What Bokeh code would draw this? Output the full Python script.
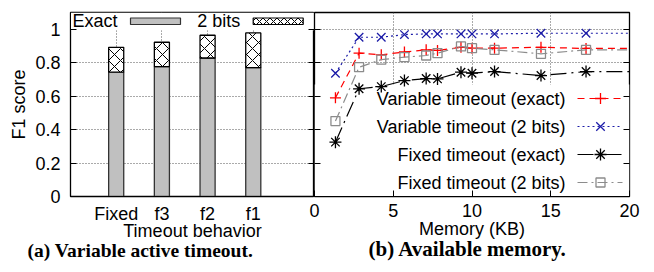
from bokeh.plotting import figure
from bokeh.models import (Range1d, FixedTicker, LinearAxis, BoxAnnotation, Title,
                          NumeralTickFormatter)
from bokeh.layouts import row
from bokeh.embed import file_html
from bokeh.resources import INLINE
from bokeh.core.properties import value

# ---------------- data ----------------
categories = ["Fixed", "f3", "f2", "f1"]
f1_exact = [0.743, 0.777, 0.828, 0.770]
f1_two_bits = [0.892, 0.922, 0.964, 0.978]

memory_kb = [1.33, 2.83, 4.24, 5.71, 7.09, 7.81, 9.30, 10.0, 11.43, 14.38, 17.24, 21.5]
var_exact = [0.590, 0.857, 0.847, 0.864, 0.877, 0.873, 0.892, 0.887, 0.887, 0.892, 0.885, 0.885]
var_two_bits = [0.737, 0.952, 0.952, 0.968, 0.972, 0.972, 0.972, 0.972, 0.972, 0.976, 0.976, 0.976]
fix_exact = [0.325, 0.644, 0.657, 0.693, 0.705, 0.703, 0.743, 0.737, 0.747, 0.723, 0.747, 0.747]
fix_two_bits = [0.451, 0.773, 0.818, 0.833, 0.843, 0.857, 0.897, 0.887, 0.877, 0.853, 0.877, 0.877]

y_ticks = [0, 0.2, 0.4, 0.6, 0.8, 1.0]
mem_ticks = [0, 5, 10, 15, 20]
mem_grid = [5, 10, 15]

FONT = "Liberation Sans"
CAP_FONT = "Liberation Serif"
FS = "18px"
GRID_COLOR = "#555555"
RED = "#ff0000"
BLUE = "#1c1ca8"
GRAY = "#8c8c8c"

positions = list(range(1, len(categories) + 1))


def style_common(p):
    p.outline_line_color = "black"
    p.outline_line_width = 1.3
    p.background_fill_color = "white"
    p.ygrid.ticker = FixedTicker(ticks=y_ticks)
    for g in (p.xgrid, p.ygrid):
        g.grid_line_color = GRID_COLOR
        g.grid_line_dash = "1 2"
        g.grid_line_width = 1
    ax = p.xaxis[0]
    ax.axis_label_text_font = FONT
    ax.axis_label_text_font_size = FS
    ax.axis_label_text_font_style = "normal"
    ax.axis_label_text_color = "black"
    ax.major_label_text_font = FONT
    ax.major_label_text_font_size = FS
    ax.major_label_text_color = "black"
    ax.major_tick_out = 0
    ax.minor_tick_in = 0
    ax.minor_tick_out = 0
    ax.major_label_standoff = 7
    ax.axis_line_color = "black"
    ax.major_tick_line_color = "black"


def hidden_y_axis():
    return LinearAxis(ticker=FixedTicker(ticks=y_ticks), major_tick_in=6, major_tick_out=0,
                      minor_tick_in=0, minor_tick_out=0, major_label_text_font_size="0px",
                      major_label_standoff=0, axis_line_color=None, major_tick_line_color="black")


def caption(text, offset, size, standoff):
    return Title(text=text, align="left", offset=offset, standoff=standoff,
                 text_font=CAP_FONT, text_font_size=size, text_font_style="bold",
                 text_color="black")


# ---------------- (a) bars ----------------
pa = figure(width=314, height=272, x_range=Range1d(0, 5.34), y_range=Range1d(0, 1.1),
            output_backend="svg", toolbar_location=None,
            min_border_left=70, min_border_right=0, min_border_top=12, min_border_bottom=76)
style_common(pa)
pa.extra_x_ranges = {"lx": Range1d(0, 244)}
pa.extra_y_ranges = {"ly": Range1d(0, 184)}

pa.xaxis.ticker = FixedTicker(ticks=positions)
pa.xaxis.major_label_overrides = {p: c for p, c in zip(positions, categories)}
pa.xaxis.major_tick_in = 0
pa.xaxis.axis_label = "Timeout behavior"
pa.xaxis.axis_label_standoff = -6
pa.xgrid.ticker = FixedTicker(ticks=positions)

pa.yaxis.ticker = FixedTicker(ticks=y_ticks)
pa.yaxis.formatter = NumeralTickFormatter(format="0.[0]")
pa.yaxis.major_tick_in = 6
pa.yaxis.major_tick_out = 0
pa.yaxis.minor_tick_in = 0
pa.yaxis.minor_tick_out = 0
pa.yaxis.major_label_standoff = 10
pa.yaxis.major_label_text_font = FONT
pa.yaxis.major_label_text_font_size = FS
pa.yaxis.major_label_text_color = "black"
pa.yaxis.major_tick_line_color = "black"
pa.yaxis.axis_line_color = "black"
pa.yaxis.axis_label = "F1 score"
pa.yaxis.axis_label_text_font = FONT
pa.yaxis.axis_label_text_font_size = FS
pa.yaxis.axis_label_text_font_style = "normal"
pa.yaxis.axis_label_text_color = "black"
pa.yaxis.axis_label_standoff = 3
pa.add_layout(hidden_y_axis(), "right")

# opaque key area
pa.add_layout(BoxAnnotation(bottom=0.994, fill_color="white", fill_alpha=1.0,
                            line_alpha=0, level="underlay"))

pa.vbar(x=positions, width=0.33, bottom=0, top=f1_exact, fill_color="#c0c0c0",
        line_color="#333333", line_width=1.3)
pa.vbar(x=positions, width=0.33, bottom=f1_exact, top=f1_two_bits, fill_color="white",
        hatch_pattern="diagonal_cross", hatch_color="black", hatch_scale=12, hatch_weight=1,
        line_color="black", line_width=1.3)

# key (a)
pa.text(x=[2, 126.7], y=[176, 176], text=["Exact", "2 bits"], x_range_name="lx", y_range_name="ly",
        text_font=value(FONT), text_font_size=FS, text_baseline="middle", text_align="left",
        text_color="black")
pa.quad(left=[60], right=[110], bottom=[172], top=[178.5], x_range_name="lx", y_range_name="ly",
        fill_color="#c0c0c0", line_color="#333333", line_width=1.2)
pa.quad(left=[182.7], right=[232.7], bottom=[172], top=[178.5], x_range_name="lx", y_range_name="ly",
        fill_color="white", hatch_pattern="diagonal_cross", hatch_color="black", hatch_scale=7,
        hatch_weight=1, line_color="black", line_width=1.2)

pa.add_layout(caption("(a) Variable active timeout.", -43, "19.5px", -12), "below")

# ---------------- (b) memory ----------------
pb = figure(width=350, height=272, x_range=Range1d(0, 20), y_range=Range1d(0, 1.1),
            output_backend="svg", toolbar_location=None,
            min_border_left=10, min_border_right=25, min_border_top=12, min_border_bottom=76,
            margin=(0, 0, 0, -10), border_fill_alpha=0)
style_common(pb)
pb.extra_x_ranges = {"lx": Range1d(0, 315)}
pb.extra_y_ranges = {"ly": Range1d(0, 184)}

pb.xaxis.ticker = FixedTicker(ticks=mem_ticks)
pb.xaxis.major_tick_in = 6
pb.xaxis.axis_label = "Memory (KB)"
pb.xaxis.axis_label_standoff = -1
pb.xgrid.ticker = FixedTicker(ticks=mem_grid)
pb.yaxis.visible = False
pb.add_layout(hidden_y_axis(), "left")
pb.add_layout(hidden_y_axis(), "right")

pb.add_layout(BoxAnnotation(top=0.67, fill_color="white", fill_alpha=1.0,
                            line_alpha=0, level="underlay"))

series = [
    ("Variable timeout (exact)", var_exact, RED, "7 5", "cross", 11),
    ("Variable timeout (2 bits)", var_two_bits, BLUE, "2 3", "x", 12),
    ("Fixed timeout (exact)", fix_exact, "black", "16 5 2 5", "asterisk", 12),
    ("Fixed timeout (2 bits)", fix_two_bits, GRAY, "10 4 2 4", "square", 9),
]
for name, ys, col, dash, mk, sz in series:
    pb.line(memory_kb, ys, line_color=col, line_dash=dash, line_width=1.2)
    pb.scatter(memory_kb, ys, marker=mk, size=sz, line_color=col, fill_alpha=0, line_width=1.3)

# key (b)
key_y = [98, 70, 42, 14]
pb.text(x=[251] * 4, y=key_y, text=[s[0] for s in series], x_range_name="lx", y_range_name="ly",
        text_font=value(FONT), text_font_size=FS, text_baseline="middle", text_align="right",
        text_color="black")
for (name, ys, col, dash, mk, sz), ky in zip(series, key_y):
    pb.line([263, 308], [ky, ky], x_range_name="lx", y_range_name="ly",
            line_color=col, line_dash=dash, line_width=1.2)
    pb.scatter([286], [ky], x_range_name="lx", y_range_name="ly", marker=mk, size=sz,
               line_color=col, fill_alpha=0, line_width=1.3)

pb.add_layout(caption("(b) Available memory.", 54, "21px", -13), "below")

layout = row(pa, pb)
open("out.html", "w").write(file_html(layout, INLINE))
